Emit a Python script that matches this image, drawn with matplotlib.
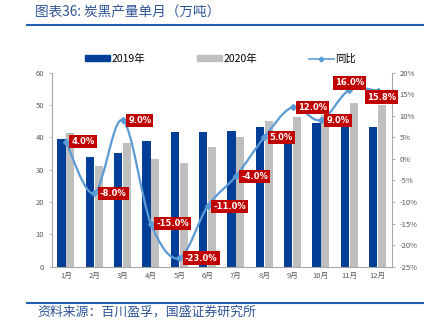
import matplotlib
matplotlib.use('Agg')
import matplotlib.pyplot as plt
from matplotlib.path import Path
from matplotlib.patches import PathPatch
from matplotlib.lines import Line2D
from matplotlib.patches import Patch
import numpy as np

plt.rcParams['font.family'] = ['Noto Sans CJK SC', 'DejaVu Sans']

months = ['1月', '2月', '3月', '4月', '5月', '6月', '7月', '8月', '9月', '10月', '11月', '12月']
prod_2019 = [39.6, 33.8, 35.1, 39.0, 41.8, 41.8, 41.9, 43.1, 41.5, 44.3, 43.5, 43.3]
prod_2020 = [41.2, 31.1, 38.2, 33.2, 32.2, 37.1, 40.2, 45.2, 46.2, 47.0, 50.5, 50.0]
yoy = [4.0, -8.0, 9.0, -15.0, -23.0, -11.0, -4.0, 5.0, 12.0, 9.0, 16.0, 15.8]
yoy_labels = ['4.0%', '-8.0%', '9.0%', '-15.0%', '-23.0%', '-11.0%', '-4.0%',
              '5.0%', '12.0%', '9.0%', '16.0%', '15.8%']

blue = '#003E98'
gray = '#BFBFBF'
line_c = '#5B9BD5'
red = '#C00000'
tick_c = '#595959'

fig = plt.figure(figsize=(4.24, 3.27), dpi=100)
ax = fig.add_axes([0.122, 0.1844, 0.802, 0.5933])
ax2 = ax.twinx()

x = np.arange(len(months))
w = 0.29
ax.bar(x - w / 2 - 0.01, prod_2019, w, color=blue, zorder=2)
ax.bar(x + w / 2 + 0.01, prod_2020, w, color=gray, zorder=2)
ax.set_xlim(-0.5, 11.5)
ax.set_ylim(0, 60)
ax.set_yticks(range(0, 61, 10))
ax.set_xticks(x)
ax.set_xticklabels(months)

# smoothed line (excel-style bezier through the points)
pts = np.column_stack([x, yoy]).astype(float)
verts = [pts[0]]
codes = [Path.MOVETO]
for i in range(len(pts) - 1):
    p0 = pts[i - 1] if i > 0 else pts[i]
    p1 = pts[i]
    p2 = pts[i + 1]
    p3 = pts[i + 2] if i + 2 < len(pts) else pts[i + 1]
    c1 = p1 + (p2 - p0) / 6
    c2 = p2 - (p3 - p1) / 6
    verts += [c1, c2, p2]
    codes += [Path.CURVE4] * 3
ax2.add_patch(PathPatch(Path(verts, codes), fill=False, edgecolor=line_c, lw=1.6, zorder=3))
ax2.plot(x, yoy, linestyle='none', marker='D', ms=3, color=line_c, zorder=4)
ax2.set_ylim(-25, 20)
ax2.set_yticks(range(-25, 21, 5))
ax2.set_yticklabels([f'{v}%' for v in range(-25, 21, 5)])

offsets = [(4, 0, 'left')] * 10 + [(0, 5, 'center'), (3, -4.5, 'center')]
for i, (v, lab) in enumerate(zip(yoy, yoy_labels)):
    dx, dy, ha = offsets[i]
    ax2.annotate(lab, (x[i], v), xytext=(dx, dy), textcoords='offset points',
                 ha=ha, va='center', fontsize=6, fontweight='bold', color='white',
                 family='DejaVu Sans',
                 bbox=dict(boxstyle='square,pad=0.25', fc=red, ec='none'), zorder=5)

for a in (ax, ax2):
    for s in a.spines.values():
        s.set_visible(False)
    a.tick_params(labelsize=5.5, colors=tick_c, length=2, width=0.6, color='#A6A6A6')
ax.spines['left'].set_visible(True)
ax.spines['left'].set_color('#A6A6A6')
ax.spines['bottom'].set_visible(True)
ax.spines['bottom'].set_color('#A6A6A6')
ax2.spines['right'].set_visible(True)
ax2.spines['right'].set_color('#A6A6A6')
ax.tick_params(axis='x', length=0, pad=4)
ax.set_zorder(ax2.get_zorder() - 1)
ax.patch.set_visible(False)

handles = [Patch(color=blue), Patch(color=gray),
           Line2D([], [], color=line_c, marker='D', ms=2.5, lw=1.2)]
fig.legend(handles, ['2019年', '2020年', '同比'], loc='center', bbox_to_anchor=(0.52, 0.82),
           ncol=3, frameon=False, fontsize=7.5, handlelength=2.4, handleheight=0.5,
           columnspacing=5, handletextpad=0.1)

fig.text(0.083, 0.962, '图表36: 炭黑产量单月（万吨）', fontsize=9.8, color='#2F5597',
         style='italic', va='center')
fig.add_artist(Line2D([0.064, 1.0], [0.924, 0.924], color='#1F5FAD', lw=1.5))
fig.add_artist(Line2D([0.064, 1.0], [0.072, 0.072], color='#1F5FAD', lw=1.5))
fig.text(0.087, 0.045, '资料来源：百川盈孚，国盛证券研究所', fontsize=9.3, color='#2F5597',
         style='italic', va='center')

fig.savefig('out.png', dpi=100)
